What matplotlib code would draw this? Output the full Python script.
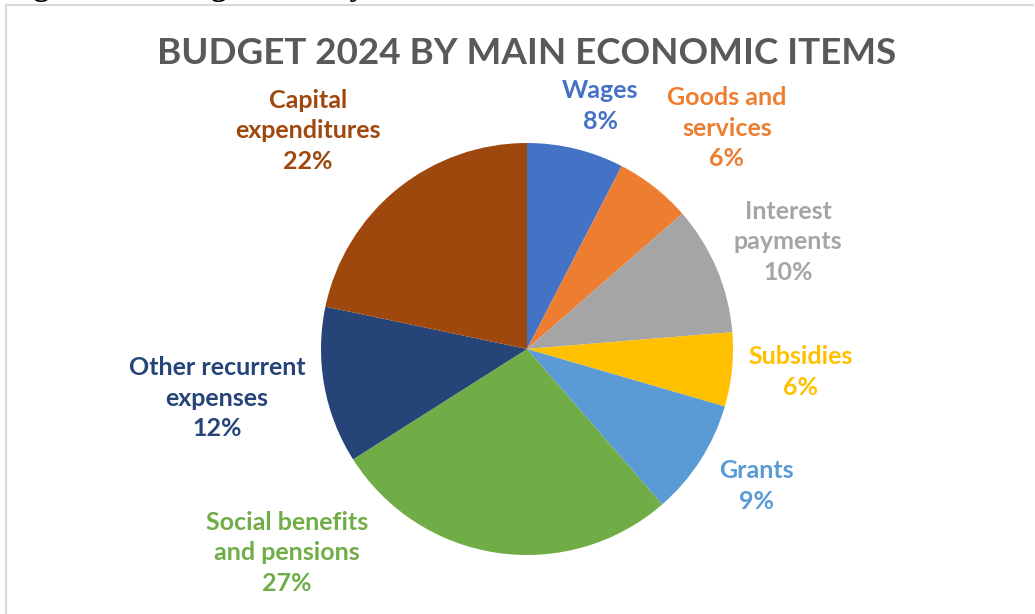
import matplotlib
matplotlib.use("Agg")
import matplotlib.pyplot as plt
from matplotlib.lines import Line2D

# Budget 2024 shares by main economic item (percent of total)
categories = [
    "Wages",
    "Goods and\nservices",
    "Interest\npayments",
    "Subsidies",
    "Grants",
    "Social benefits\nand pensions",
    "Other recurrent\nexpenses",
    "Capital\nexpenditures",
]
shares = [7.6, 6.0, 10.1, 5.8, 9.1, 27.4, 12.3, 21.7]
colors = ["#4472C4", "#ED7D31", "#A5A5A5", "#FFC000",
          "#5B9BD5", "#70AD47", "#264478", "#9E480E"]
title = "BUDGET 2024 BY MAIN ECONOMIC ITEMS"
heading = "Figure 10: Budget 2024 by main economic items"

# label anchors in pixel coordinates (x, y from top)
label_xy = [(600, 106), (727, 128), (788, 242), (801, 372),
            (756, 486), (287, 553), (217, 398), (308, 131)]

W, H = 1035, 614
fig = plt.figure(figsize=(W / 100, H / 100), dpi=100)
fig.patch.set_facecolor("white")

FONT = ["Lato", "DejaVu Sans"]

# pie axes: centre and radius in pixels
cx, cy, r = 527, 349, 206
ax = fig.add_axes([(cx - r) / W, 1 - (cy + r) / H, 2 * r / W, 2 * r / H])
ax.pie(shares, colors=colors, startangle=90, counterclock=False,
       radius=1, wedgeprops=dict(linewidth=0))
ax.set_xlim(-1, 1)
ax.set_ylim(-1, 1)
ax.axis("off")

for cat, val, col, (px, py) in zip(categories, shares, colors, label_xy):
    fig.text(px / W, 1 - py / H, f"{cat}\n{val:.0f}%", ha="center", va="center",
             color=col, fontsize=18, fontweight="bold", family=FONT,
             linespacing=1.42, multialignment="center")

fig.text(526.5 / W, 1 - 53 / H, title, ha="center", va="center",
         color="#595959", fontsize=26.5, fontweight="bold", family=FONT)

# document heading sitting just above the frame
fig.text(5 / W, 1 + 5 / H, heading, ha="left", va="baseline",
         color="black", fontsize=23, fontweight="bold",
         family=["Liberation Serif", "DejaVu Serif"])

# chart frame
fig.add_artist(Line2D([6 / W, 6 / W], [0, 1 - 4.5 / H], color="#D9D9D9", lw=1.5))
fig.add_artist(Line2D([6 / W, 1033 / W], [1 - 4.5 / H, 1 - 4.5 / H], color="#D9D9D9", lw=1.5))

fig.savefig("out.png", dpi=100, facecolor="white")
